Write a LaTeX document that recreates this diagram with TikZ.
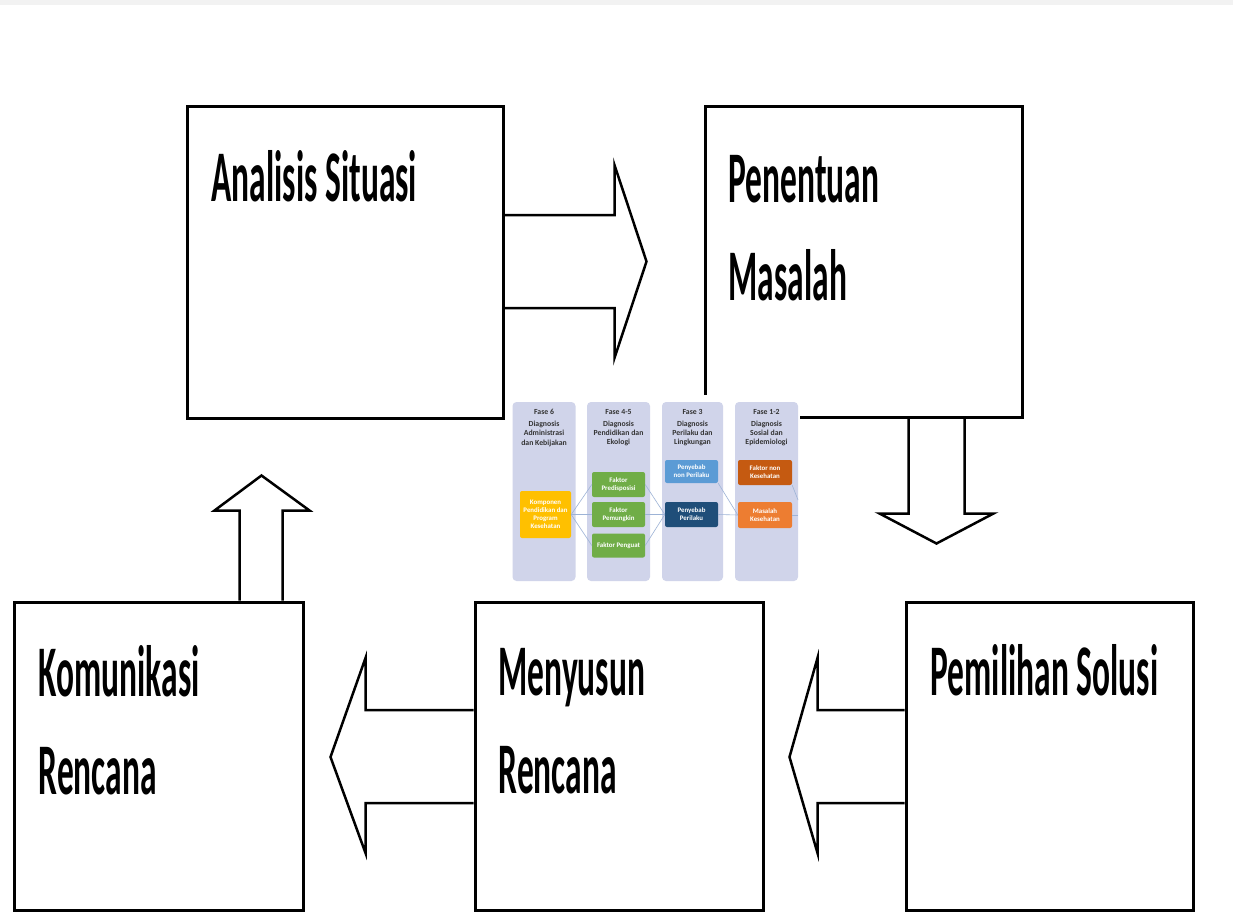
\documentclass[tikz,border=0pt]{standalone}
\usepackage{fontspec}
\usetikzlibrary{calc}
\newfontfamily\stagefont{Carlito}[FakeStretch=0.46]
\newfontfamily\fasefont{Carlito}
\definecolor{faseLilac}{HTML}{D0D4EA}
\definecolor{faseYellow}{HTML}{FFC000}
\definecolor{faseGreen}{HTML}{70AD47}
\definecolor{faseBlue}{HTML}{5B9BD5}
\definecolor{faseNavy}{HTML}{1F4E79}
\definecolor{faseRust}{HTML}{C55A11}
\definecolor{faseOrange}{HTML}{ED7D31}
\definecolor{faseLine}{HTML}{9DB3D6}
\definecolor{topGray}{HTML}{F2F2F2}

\begin{document}
\begin{tikzpicture}[x=1bp,y=-1bp,
  stagebox/.style={draw=black,line width=3bp,inner sep=0pt},
  stagetext/.style={anchor=base west,inner sep=0pt,align=left,font=\stagefont\bfseries\fontsize{73}{98}\selectfont},
  blockarrow/.style={draw=black,line width=2.5bp,line join=miter},
  fasecol/.style={fill=faseLilac,rounded corners=4bp,minimum width=63bp,minimum height=179bp,inner sep=0pt},
  fasehead/.style={anchor=north,align=center,inner sep=0pt,text=black!80,font=\fasefont\bfseries\fontsize{7.8}{9.5}\selectfont},
  fasebox/.style={rounded corners=2bp,minimum width=53bp,minimum height=25bp,inner sep=1bp,align=center,text=white,font=\fasefont\bfseries\fontsize{6.9}{8.2}\selectfont},
  faselink/.style={draw=faseLine,line width=0.6bp}]
  \useasboundingbox (0,0) rectangle (1233,912);
  \fill[topGray] (0,0) rectangle (1233,5);

  % the five steps
  \node[stagebox,minimum width=315bp,minimum height=312bp] (b1) at (345.5,262) {};
  \node[stagebox,minimum width=317bp,minimum height=311bp] (b2) at (863.5,261.5) {};
  \node[stagebox,minimum width=288bp,minimum height=308bp] (b3) at (159,756) {};
  \node[stagebox,minimum width=288bp,minimum height=308bp] (b4) at (619,756) {};
  \node[stagebox,minimum width=287bp,minimum height=308bp] (b5) at (1049.5,756) {};

  % base of a two-line label is its last line
  \node[stagetext] (t1) at ($(b1.north west)+(25,97)$) {Analisis Situasi};
  \node[stagetext] (t2) at ($(b2.north west)+(25,196)$) {Penentuan\\Masalah};
  \node[stagetext] (t3) at ($(b3.north west)+(25,194)$) {Komunikasi\\Rencana};
  \node[stagetext] (t4) at ($(b4.north west)+(25,193)$) {Menyusun\\Rencana};
  \node[stagetext] (t5) at ($(b5.north west)+(26,95)$) {Pemilihan Solusi};

  % block arrows
  \draw[blockarrow] ($(b1.east)+(0,-47)$) -- ++(110,0) -- ++(0,-50) -- ($(b2.west)+(-57,0)$)
    -- ($(b1.east)+(110,96)$) -- ++(0,-50) -- ($(b1.east)+(0,46)$);
  \draw[blockarrow] ($(b2.south east)+(-115,0)$) -- ++(0,95) -- ++(-29,0) -- ++(57,30)
    -- ++(57,-30) -- ++(-29,0) -- ++(0,-95);
  \draw[blockarrow] ($(b5.west)+(0,-46)$) -- ++(-87,0) -- ++(0,-52) -- ++(-28,99)
    -- ++(28,96) -- ++(0,-50) -- ++(87,0);
  \draw[blockarrow] ($(b4.west)+(0,-46)$) -- ++(-108,0) -- ++(0,-52) -- ++(-35,99)
    -- ++(35,96) -- ++(0,-50) -- ++(108,0);
  \draw[blockarrow] ($(b3.north east)+(-65,0)$) -- ++(0,-90) -- ++(-25,0) -- ++(47,-35)
    -- ++(48,35) -- ++(-27,0) -- ++(0,90);

  % inset: the Fase columns
  \fill[white] (508,395) rectangle (800,585);
  \node[fasecol] (c6) at (544,491.5) {};
  \node[fasecol] (c45) at (618.5,491.5) {};
  \node[fasecol,minimum width=61bp] (c3) at (692.5,491.5) {};
  \node[fasecol] (c12) at (766.5,491.5) {};

  \node[fasehead] (h6) at ($(c6.north)+(0,7)$) {Fase 6\\[2.5bp]Diagnosis\\Administrasi\\dan Kebijakan};
  \node[fasehead] (h45) at ($(c45.north)+(0,7)$) {Fase 4-5\\[2.5bp]Diagnosis\\Pendidikan dan\\Ekologi};
  \node[fasehead] (h3) at ($(c3.north)+(0,7)$) {Fase 3\\[2.5bp]Diagnosis\\Perilaku dan\\Lingkungan};
  \node[fasehead] (h12) at ($(c12.north)+(0,7)$) {Fase 1-2\\[2.5bp]Diagnosis\\Sosial dan\\Epidemiologi};

  \node[fasebox,fill=faseYellow,minimum width=51bp,minimum height=47bp] (k1) at (545.5,514.5) {Komponen\\Pendidikan dan\\Program\\Kesehatan};
  \node[fasebox,fill=faseGreen] (f1) at (618.5,484.5) {Faktor\\Predisposisi};
  \node[fasebox,fill=faseGreen] (f2) at (618.5,514.5) {Faktor\\Pemungkin};
  \node[fasebox,fill=faseGreen,minimum height=24bp] (f3) at (618.5,545.5) {Faktor Penguat};
  \node[fasebox,fill=faseBlue,minimum height=23bp] (p1) at (691.5,471.5) {Penyebab\\non Perilaku};
  \node[fasebox,fill=faseNavy] (p2) at (691.5,514.5) {Penyebab\\Perilaku};
  \node[fasebox,fill=faseRust,minimum width=54bp] (m1) at (765,472.5) {Faktor non\\Kesehatan};
  \node[fasebox,fill=faseOrange,minimum width=54bp,minimum height=26bp] (m2) at (765,515) {Masalah\\Kesehatan};
  \coordinate (e1) at (798,500);
  \coordinate (e2) at (798,515);

  \draw[faselink] (k1.east) -- (f1.west);
  \draw[faselink] (k1.east) -- (f2.west);
  \draw[faselink] (k1.east) -- (f3.west);
  \draw[faselink] (f1.east) -- (p2.west);
  \draw[faselink] (f2.east) -- (p2.west);
  \draw[faselink] (f3.east) -- (p2.west);
  \draw[faselink] (p1.south east) -- (m2.west);
  \draw[faselink] (p2.east) -- (m2.west);
  \draw[faselink] (m1.south east) -- (e1);
  \draw[faselink] (m2.east) -- (e2);
\end{tikzpicture}
\end{document}
